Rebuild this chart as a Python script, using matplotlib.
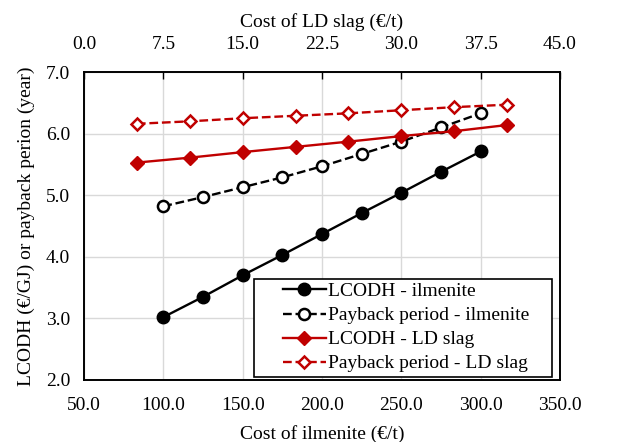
import matplotlib
matplotlib.use("Agg")
import matplotlib.pyplot as plt
from matplotlib.patches import Rectangle
from matplotlib.ticker import FormatStrFormatter

ilmenite_cost = [100, 125, 150, 175, 200, 225, 250, 275, 300]
lcodh_ilmenite = [3.02, 3.35, 3.70, 4.03, 4.37, 4.71, 5.04, 5.38, 5.71]
payback_ilmenite = [4.82, 4.97, 5.13, 5.29, 5.47, 5.67, 5.87, 6.10, 6.33]

ld_slag_cost = [5, 10, 15, 20, 25, 30, 35, 40]
lcodh_ld = [5.53, 5.61, 5.70, 5.785, 5.87, 5.96, 6.04, 6.14]
payback_ld = [6.16, 6.20, 6.25, 6.29, 6.33, 6.38, 6.43, 6.47]

red = "#c00000"
plt.rcParams['font.family'] = ['Liberation Serif', 'DejaVu Serif']
plt.rcParams['font.size'] = 14

fig = plt.figure(figsize=(6.19, 4.42), dpi=100)
ax = fig.add_axes([0.1357, 0.1403, 0.769, 0.6967])
ax2 = ax.twiny()

l1, = ax.plot(ilmenite_cost, lcodh_ilmenite, '-o', color='black', lw=1.7,
              ms=9, label="LCODH - ilmenite")
l2, = ax.plot(ilmenite_cost, payback_ilmenite, '--o', color='black', lw=1.7,
              ms=8, mfc='white', mew=1.8, label="Payback period - ilmenite")
l3, = ax2.plot(ld_slag_cost, lcodh_ld, '-D', color=red, lw=1.7,
               ms=7, label="LCODH - LD slag")
l4, = ax2.plot(ld_slag_cost, payback_ld, '--D', color=red, lw=1.7,
               ms=6, mfc='white', mew=1.8, label="Payback period - LD slag")

ax.set_xlim(50, 350)
ax.set_ylim(2, 7)
ax.set_xticks([50, 100, 150, 200, 250, 300, 350])
ax.set_yticks([2, 3, 4, 5, 6, 7])
ax.xaxis.set_major_formatter(FormatStrFormatter('%.1f'))
ax.yaxis.set_major_formatter(FormatStrFormatter('%.1f'))
ax.grid(True, color='#d9d9d9', lw=1)
ax.set_axisbelow(True)
ax.tick_params(axis='x', length=0, pad=12)
ax.tick_params(axis='y', length=0, pad=10)

ax2.set_xlim(0, 45)
ax2.set_xticks([0, 7.5, 15, 22.5, 30, 37.5, 45])
ax2.xaxis.set_major_formatter(FormatStrFormatter('%.1f'))
ax2.tick_params(axis='x', direction='in', length=5, width=1, pad=14)

for a in (ax, ax2):
    for s in a.spines.values():
        s.set_linewidth(1.2)
        s.set_color('black')

ax.set_xlabel("Cost of ilmenite (€/t)", labelpad=8)
ax2.set_xlabel("Cost of LD slag (€/t)", labelpad=6)
ax.set_ylabel("LCODH (€/GJ) or payback perion (year)", labelpad=8)

# legend box drawn as in the original (wide left padding)
ax.add_patch(Rectangle((0.357, 0.01), 0.626, 0.318, transform=ax.transAxes,
                       facecolor='white', edgecolor='black', lw=1.2, zorder=5))
leg = ax.legend(handles=[l1, l2, l3, l4], loc='upper left',
                bbox_to_anchor=(0.418, 0.316), frameon=False,
                borderpad=0, borderaxespad=0, handlelength=2.2,
                handletextpad=0.1, labelspacing=0.33)
leg.set_zorder(6)

fig.savefig("out.png", dpi=100)
